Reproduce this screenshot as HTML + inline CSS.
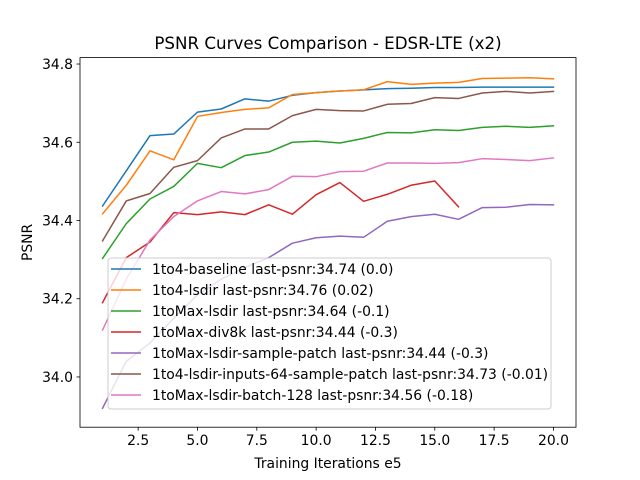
<!DOCTYPE html>
<html><head><meta charset="utf-8"><style>
body{margin:0;background:#fff;}
svg{display:block;font-family:"DejaVu Sans","Liberation Sans",sans-serif;}
</style></head><body>
<svg id="chart" width="640" height="480"></svg>
<script>
const iterations=[1,2,3,4,5,6,7,8,9,10,11,12,13,14,15,16,17,18,19,20];
const blueVals=[34.437,34.527,34.617,34.621,34.677,34.685,34.711,34.705,34.72,34.727,34.731,34.734,34.737,34.738,34.74,34.74,34.741,34.741,34.741,34.741];
const orangeVals=[34.417,34.49,34.578,34.555,34.666,34.676,34.684,34.688,34.722,34.727,34.731,34.734,34.755,34.748,34.751,34.753,34.763,34.764,34.765,34.762];
const greenVals=[34.303,34.392,34.455,34.487,34.546,34.535,34.566,34.575,34.6,34.603,34.598,34.61,34.625,34.624,34.632,34.63,34.638,34.641,34.638,34.642];
const redVals=[34.19,34.305,34.345,34.42,34.415,34.422,34.415,34.44,34.416,34.466,34.497,34.449,34.467,34.49,34.501,34.435];
const purpleVals=[33.92,34.04,34.087,34.15,34.21,34.25,34.28,34.305,34.342,34.356,34.36,34.357,34.398,34.41,34.416,34.403,34.433,34.434,34.441,34.44];
const brownVals=[34.348,34.45,34.469,34.536,34.553,34.611,34.634,34.634,34.668,34.684,34.681,34.68,34.697,34.699,34.714,34.712,34.726,34.73,34.726,34.73];
const pinkVals=[34.12,34.25,34.35,34.41,34.45,34.474,34.468,34.479,34.513,34.512,34.525,34.526,34.547,34.547,34.546,34.548,34.558,34.556,34.553,34.56];
const seriesNames=["1to4-baseline last-psnr:34.74 (0.0)","1to4-lsdir last-psnr:34.76 (0.02)","1toMax-lsdir last-psnr:34.64 (-0.1)","1toMax-div8k last-psnr:34.44 (-0.3)","1toMax-lsdir-sample-patch last-psnr:34.44 (-0.3)","1to4-lsdir-inputs-64-sample-patch last-psnr:34.73 (-0.01)","1toMax-lsdir-batch-128 last-psnr:34.56 (-0.18)"];
const xTicks=[2.5,5.0,7.5,10.0,12.5,15.0,17.5,20.0];
const yTicks=[34.0,34.2,34.4,34.6,34.8];

const svg=document.getElementById('chart');
const NS='http://www.w3.org/2000/svg';
const L=80,R=576,T=57.6,B=427.2;
const xMin=0.05,xMax=20.95,yMin=33.8716,yMax=34.8164;
const xs=v=>L+(v-xMin)/(xMax-xMin)*(R-L);
const ys=v=>B-(v-yMin)/(yMax-yMin)*(B-T);
function mk(tag,attrs,parent){const e=document.createElementNS(NS,tag);for(const k in attrs)e.setAttribute(k,attrs[k]);(parent||svg).appendChild(e);return e;}

const title=mk('text',{x:328,y:49,'text-anchor':'middle','font-size':16.7,fill:'#000'});


title.textContent='PSNR Curves Comparison - EDSR-LTE (x2)';

const colors=['#1f77b4','#ff7f0e','#2ca02c','#d62728','#9467bd','#8c564b','#e377c2'];
const allVals=[blueVals,orangeVals,greenVals,redVals,purpleVals,brownVals,pinkVals];
const keys=['baseline','lsdir','max-lsdir','max-div8k','max-sample-patch','inputs-64','batch-128'];
allVals.forEach((vals,i)=>{
  const pts=vals.map((v,j)=>xs(iterations[j]).toFixed(2)+','+ys(v).toFixed(2)).join(' ');
  const pl=mk('polyline',{points:pts,fill:'none',stroke:colors[i],'stroke-width':1.5,'stroke-linejoin':'round','stroke-linecap':'square'});
  
  
});

xTicks.forEach(t=>{
  const x=xs(t);
  const tk=mk('line',{x1:x,x2:x,y1:B,y2:B+3.5,stroke:'#000','stroke-width':0.8});
  
  
  const tx=mk('text',{x:x,y:B+18,'text-anchor':'middle','font-size':13.9,fill:'#000'});
  
  
  tx.textContent=t.toFixed(1);
});
yTicks.forEach(t=>{
  const y=ys(t);
  const tk=mk('line',{x1:L-3.5,x2:L,y1:y,y2:y,stroke:'#000','stroke-width':0.8});
  
  
  const tx=mk('text',{x:L-7,y:y+5,'text-anchor':'end','font-size':13.9,fill:'#000'});
  
  
  tx.textContent=t.toFixed(1);
});

const frame=mk('rect',{x:L,y:T,width:R-L,height:B-T,fill:'none',stroke:'#000','stroke-width':0.8});



const xl=mk('text',{x:(L+R)/2,y:468,'text-anchor':'middle','font-size':13.9,fill:'#000'});


xl.textContent='Training Iterations e5';
const yl=mk('text',{x:0,y:0,'text-anchor':'middle','font-size':13.9,fill:'#000',transform:'translate(32,'+((T+B)/2)+') rotate(-90)'});


yl.textContent='PSNR';

const lg=mk('g',{});


mk('rect',{x:108,y:258,width:443,height:151,rx:3,fill:'#fff','fill-opacity':0.8,stroke:'#ccc','stroke-width':1},lg);
seriesNames.forEach((n,i)=>{
  const y=269+i*21;
  const g=mk('g',{},lg);
  
  
  mk('line',{x1:111,x2:141,y1:y,y2:y,stroke:colors[i],'stroke-width':1.5},g);
  const t=mk('text',{x:152,y:y+5,'font-size':13.9,fill:'#000'},g);
  t.textContent=n;
});
</script>
</body></html>
